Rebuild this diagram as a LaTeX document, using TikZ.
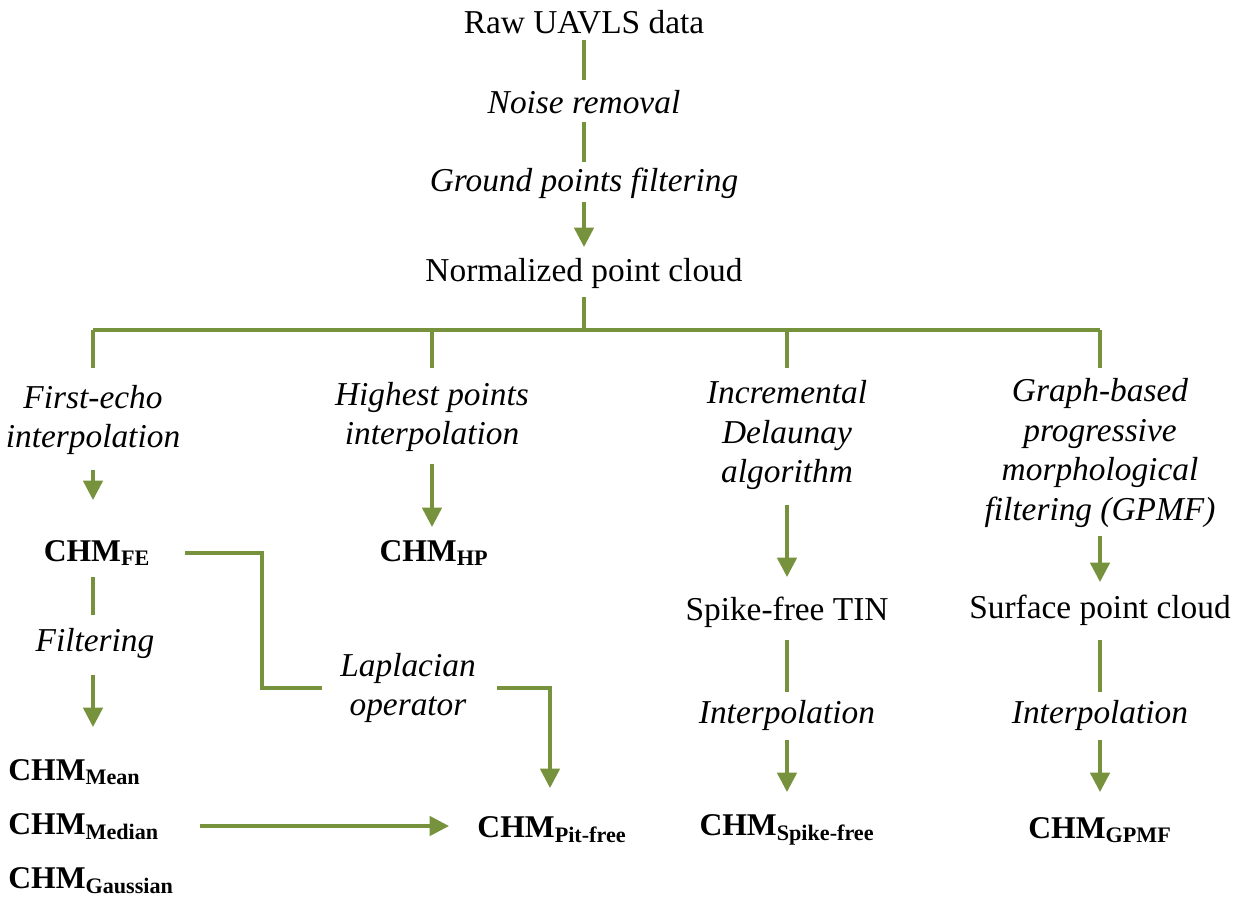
\documentclass[tikz,border=0pt]{standalone}
\usepackage{fontspec}
\setmainfont{Liberation Serif}
\usetikzlibrary{arrows.meta}
\definecolor{ln}{HTML}{76923C}
\begin{document}
\begin{tikzpicture}[x=0.02cm,y=-0.02cm,
  t/.style={font=\fontsize{19}{22}\selectfont,align=center,inner sep=0},
  it/.style={t,font=\fontsize{19}{22.5}\itshape\selectfont},
  chm/.style={t,font=\fontsize{18}{20}\bfseries\selectfont},
  l/.style={draw=ln,line width=2pt},
  a/.style={l,-{Triangle[width=11pt,length=11pt]}}]
\useasboundingbox (0,0) rectangle (1237,917);
\node[t] (raw) at (584,22) {Raw UAVLS data};
\node[it] (nr) at (584,102) {Noise removal};
\node[it] (gp) at (584,183) {Ground points filtering};
\node[t] (npc) at (584,273) {Normalized point cloud};
\coordinate (r1) at (584,40); \coordinate (r2) at (584,80);
\coordinate (r3) at (584,122); \coordinate (r4) at (584,162);
\coordinate (r5) at (584,202); \coordinate (r6) at (584,247);
\draw[l] (r1)--(r2); \draw[l] (r3)--(r4); \draw[a] (r5)--(r6);
\coordinate (h0) at (584,297); \coordinate (hc) at (584,330);
\coordinate (hl) at (93,330); \coordinate (hr) at (1100,330);
\coordinate (d1) at (93,368); \coordinate (d2) at (432,368);
\coordinate (d3) at (787,368); \coordinate (d4) at (1100,368);
\coordinate (u2) at (432,330); \coordinate (u3) at (787,330);
\draw[l] (h0)--(hc); \draw[l] (hl)--(hr);
\draw[l] (hl)--(d1); \draw[l] (u2)--(d2); \draw[l] (u3)--(d3); \draw[l] (hr)--(d4);
% column 1
\node[it] (fe) at (93,420) {First-echo\\interpolation};
\node[chm] (chmfe) at (97,553) {CHM\textsubscript{FE}};
\node[it] (filt) at (95,643) {Filtering};
\node[chm,anchor=west] (mean) at (8,772) {CHM\textsubscript{Mean}};
\node[chm,anchor=west] (median) at (8,827) {CHM\textsubscript{Median}};
\node[chm,anchor=west] (gauss) at (8,881) {CHM\textsubscript{Gaussian}};
\coordinate (c1a) at (93,470); \coordinate (c1b) at (93,500);
\coordinate (c1c) at (93,577); \coordinate (c1d) at (93,615);
\coordinate (c1e) at (93,675); \coordinate (c1f) at (93,727);
\draw[a] (c1a)--(c1b); \draw[l] (c1c)--(c1d); \draw[a] (c1e)--(c1f);
% column 2
\node[it] (hp) at (432,417) {Highest points\\interpolation};
\node[chm] (chmhp) at (434,553) {CHM\textsubscript{HP}};
\coordinate (c2a) at (432,464); \coordinate (c2b) at (432,527);
\draw[a] (c2a)--(c2b);
% laplacian
\node[it] (lap) at (408,688) {Laplacian\\operator};
\node[chm] (pit) at (552,830) {CHM\textsubscript{Pit-free}};
\coordinate (p1) at (185,553); \coordinate (p2) at (262,553);
\coordinate (p3) at (262,688); \coordinate (p4) at (322,688);
\coordinate (p5) at (497,688); \coordinate (p6) at (550,688);
\coordinate (p7) at (550,788);
\draw[l] (p1)--(p2)--(p3)--(p4);
\draw[a] (p5)--(p6)--(p7);
\coordinate (m1) at (200,826); \coordinate (m2) at (449,826);
\draw[a] (m1)--(m2);
% column 3
\node[it] (idl) at (787,435) {Incremental\\Delaunay\\algorithm};
\node[t] (sft) at (787,612) {Spike-free TIN};
\node[it] (int3) at (787,715) {Interpolation};
\node[chm] (spk) at (787,830) {CHM\textsubscript{Spike-free}};
\coordinate (c3a) at (787,505); \coordinate (c3b) at (787,577);
\coordinate (c3c) at (787,640); \coordinate (c3d) at (787,692);
\coordinate (c3e) at (787,740); \coordinate (c3f) at (787,792);
\draw[a] (c3a)--(c3b); \draw[l] (c3c)--(c3d); \draw[a] (c3e)--(c3f);
% column 4
\node[it] (gb) at (1100,453) {Graph-based\\progressive\\morphological\\filtering (GPMF)};
\node[t] (spc) at (1100,610) {Surface point cloud};
\node[it] (int4) at (1100,715) {Interpolation};
\node[chm] (gpmf) at (1100,830) {CHM\textsubscript{GPMF}};
\coordinate (c4a) at (1100,536); \coordinate (c4b) at (1100,582);
\coordinate (c4c) at (1100,640); \coordinate (c4d) at (1100,692);
\coordinate (c4e) at (1100,740); \coordinate (c4f) at (1100,792);
\draw[a] (c4a)--(c4b); \draw[l] (c4c)--(c4d); \draw[a] (c4e)--(c4f);
\end{tikzpicture}
\end{document}
